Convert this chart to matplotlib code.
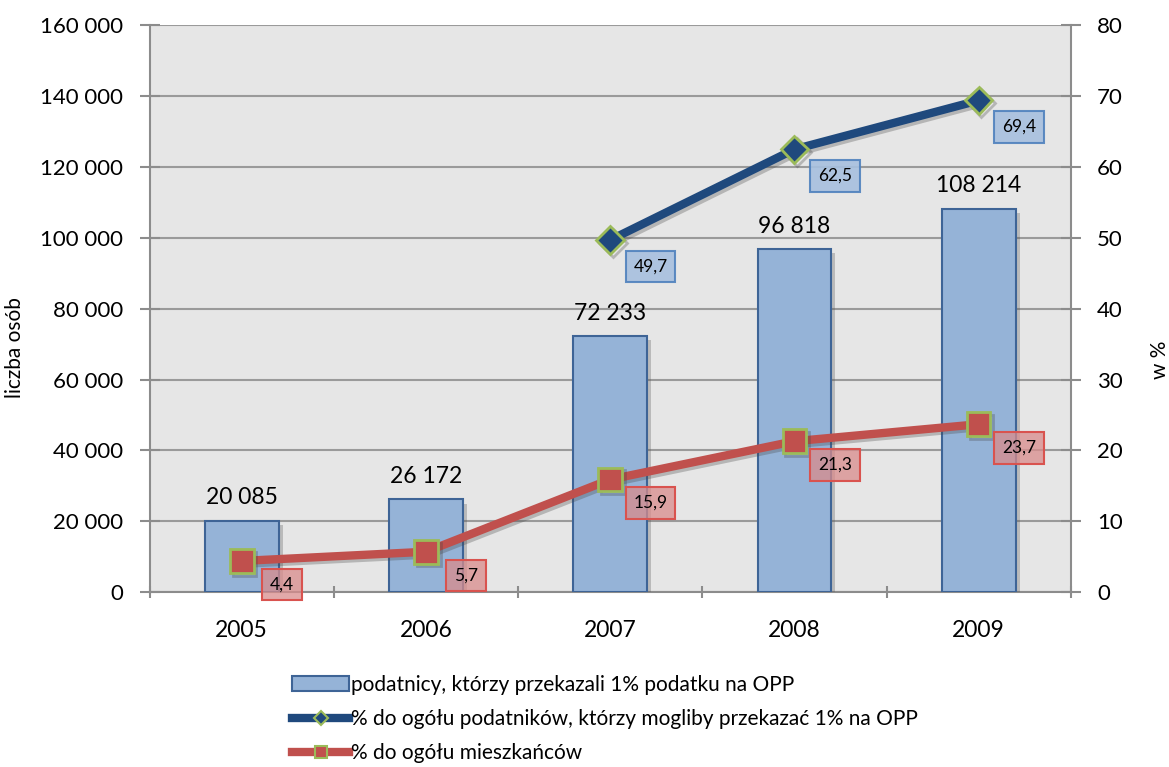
import matplotlib.pyplot as plt
import matplotlib.patheffects as pe
from matplotlib.lines import Line2D
from matplotlib.patches import Patch
import numpy as np

plt.rcParams['font.family'] = ['Lato', 'DejaVu Sans']

years = ['2005', '2006', '2007', '2008', '2009']
podatnicy = [20085, 26172, 72233, 96818, 108214]
pct_podatnikow = [None, None, 49.7, 62.5, 69.4]
pct_mieszkancow = [4.4, 5.7, 15.9, 21.3, 23.7]
left_ticks = [0, 20000, 40000, 60000, 80000, 100000, 120000, 140000, 160000]
right_ticks = [0, 10, 20, 30, 40, 50, 60, 70, 80]

bar_face = '#95b3d7'
bar_edge = '#3e6496'
blue = '#1f497d'
red = '#c0504d'
green = '#9bbb59'
axis_gray = '#8c8c8c'


def fmt(v):
    return f'{v:,}'.replace(',', ' ')


fig = plt.figure(figsize=(11.69, 7.67), dpi=100)
ax = fig.add_axes([0.128, 0.228, 0.788, 0.739])
ax.set_facecolor('#e6e6e6')
x = np.arange(len(years))

shadow = [pe.SimplePatchShadow(offset=(3, -3), shadow_rgbFace='#555555', alpha=0.3), pe.Normal()]
bars = ax.bar(x, podatnicy, width=0.4, color=bar_face, edgecolor=bar_edge, linewidth=1.5, zorder=3)
for b in bars:
    b.set_path_effects(shadow)
for xi, v in zip(x, podatnicy):
    ax.annotate(fmt(v), (xi, v), xytext=(0, 9), textcoords='offset points',
                ha='center', va='bottom', fontsize=16.5, zorder=6)

ax.set_xlim(-0.5, 4.5)
ax.set_ylim(0, 160000)
ax.set_yticks(left_ticks)
ax.set_yticklabels([fmt(t) for t in left_ticks], fontsize=16)
ax.set_xticks(x)
ax.set_xticklabels(years, fontsize=16.5)
ax.set_xticks(np.arange(-0.5, 5.0, 1.0), minor=True)
ax.tick_params(axis='x', which='major', length=0, pad=20)
ax.tick_params(axis='x', which='minor', length=8, direction='inout', color=axis_gray, width=1.5)
ax.tick_params(axis='y', length=14, direction='inout', color=axis_gray, width=1.5, pad=12)
ax.yaxis.grid(True, color='#9a9a9a', linewidth=1.5, zorder=0)
ax.set_axisbelow(True)
ax.set_ylabel('liczba osób', fontsize=15)
ax.yaxis.set_label_coords(-0.135, 0.432)
for s in ['top', 'right']:
    ax.spines[s].set_visible(False)
for s in ['left', 'bottom']:
    ax.spines[s].set_color(axis_gray)
    ax.spines[s].set_linewidth(1.5)

ax2 = ax.twinx()
ax2.set_ylim(0, 80)
ax2.set_yticks(right_ticks)
ax2.set_yticklabels([str(t) for t in right_ticks], fontsize=16)
ax2.tick_params(axis='y', length=14, direction='inout', color=axis_gray, width=1.5, pad=12)
ax2.set_ylabel('w %', fontsize=15, rotation=90)
ax2.yaxis.set_label_coords(1.086, 0.41)
for s in ['top', 'left', 'bottom']:
    ax2.spines[s].set_visible(False)
ax2.spines['right'].set_color(axis_gray)
ax2.spines['right'].set_linewidth(1.5)

line_shadow = [pe.SimpleLineShadow(offset=(2, -2), shadow_color='#444444', alpha=0.3), pe.Normal()]

xb = [xi for xi, v in zip(x, pct_podatnikow) if v is not None]
yb = [v for v in pct_podatnikow if v is not None]
ax2.plot(xb, yb, color=blue, linewidth=6, marker='D', markersize=14,
         markerfacecolor=blue, markeredgecolor=green, markeredgewidth=2,
         zorder=4, path_effects=line_shadow)
ax2.plot(x, pct_mieszkancow, color=red, linewidth=6, marker='s', markersize=17,
         markerfacecolor=red, markeredgecolor=green, markeredgewidth=2,
         zorder=4, path_effects=line_shadow)

for xi, v in zip(xb, yb):
    ax2.annotate(f'{v:.1f}'.replace('.', ','), (xi, v), xytext=(29, -19), textcoords='offset points',
                 ha='center', va='center', fontsize=12.5, zorder=7,
                 bbox=dict(boxstyle='square,pad=0.45', facecolor='#a7c0df', edgecolor='#4f81bd', linewidth=1.5, alpha=0.9))
for xi, v in zip(x, pct_mieszkancow):
    ax2.annotate(f'{v:.1f}'.replace('.', ','), (xi, v), xytext=(29, -17), textcoords='offset points',
                 ha='center', va='center', fontsize=12.5, zorder=7,
                 bbox=dict(boxstyle='square,pad=0.45', facecolor=(0.85, 0.55, 0.55, 0.75), edgecolor='#d9534f', linewidth=1.5))

handles = [
    Patch(facecolor=bar_face, edgecolor=bar_edge, linewidth=1.5),
    Line2D([], [], color=blue, linewidth=6, marker='D', markersize=7,
           markerfacecolor=blue, markeredgecolor=green, markeredgewidth=1.5),
    Line2D([], [], color=red, linewidth=6, marker='s', markersize=9,
           markerfacecolor=red, markeredgecolor=green, markeredgewidth=1.5),
]
labels = ['podatnicy, którzy przekazali 1% podatku na OPP',
          '% do ogółu podatników, którzy mogliby przekazać 1% na OPP',
          '% do ogółu mieszkańców']
fig.legend(handles, labels, loc='upper left', bbox_to_anchor=(0.243, 0.131), frameon=False,
           fontsize=15, handlelength=2.7, handletextpad=0.1, labelspacing=0.68, borderaxespad=0)

fig.savefig('out.png', dpi=100)
